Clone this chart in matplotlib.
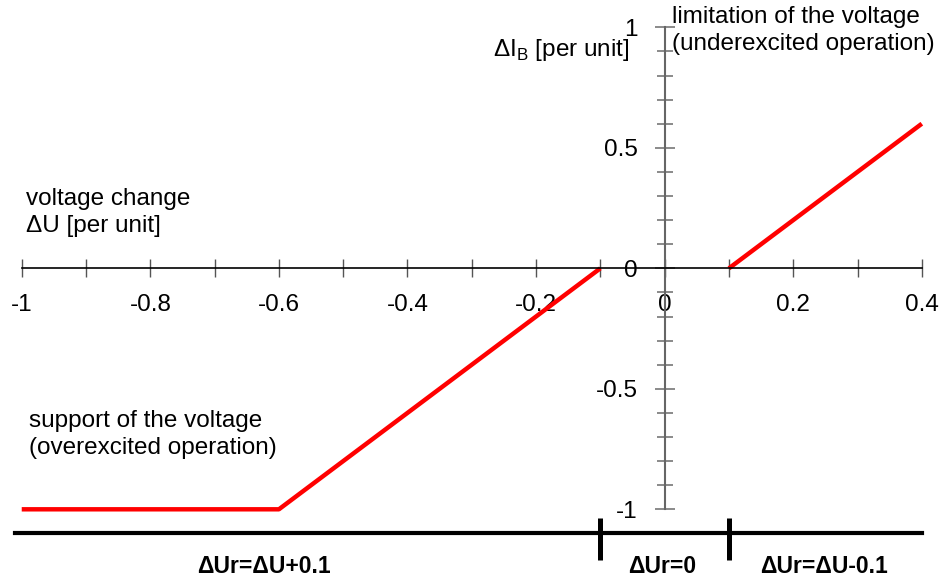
import matplotlib
matplotlib.use("Agg")
import matplotlib.pyplot as plt
from matplotlib.ticker import FixedLocator, FuncFormatter

plt.rcParams["font.family"] = ["Liberation Sans", "DejaVu Sans"]
plt.rcParams["axes.unicode_minus"] = False
plt.rcParams["mathtext.fontset"] = "custom"
plt.rcParams["mathtext.rm"] = "Liberation Sans"

# reactive current characteristic: dI_B over dU (per unit)
du_support = [-1.0, -0.6, -0.1]
di_support = [-1.0, -1.0, 0.0]
du_limit = [0.1, 0.4]
di_limit = [0.0, 0.6]

# ranges of the reference voltage along the bottom bar
bar_du = [-1.01, 0.4]
bar_level = -1.1
range_edges = [-0.1, 0.1]
range_labels = ["ΔUr=ΔU+0.1", "ΔUr=0", "ΔUr=ΔU-0.1"]

x_major = [-1.0, -0.8, -0.6, -0.4, -0.2, 0.0, 0.2, 0.4]
x_minor = [-0.9, -0.7, -0.5, -0.3, -0.1, 0.1, 0.3]
y_major = [-1.0, -0.5, 0.0, 0.5, 1.0]
y_minor = [i / 10 for i in range(-10, 11) if i % 5 != 0]


def fmt(v, pos):
    return f"{round(v, 1) + 0.0:g}"


fig = plt.figure(figsize=(9.44, 5.81), dpi=100)
ax = fig.add_axes([0, 0, 1, 1])
ax.set_xlim(-1.0338, 0.4345)
ax.set_ylim(-1.2975, 1.1133)
ax.patch.set_visible(False)

for s in ["top", "right"]:
    ax.spines[s].set_visible(False)
ax.spines["left"].set_position(("data", 0))
ax.spines["left"].set_bounds(-1, 1)
ax.spines["left"].set_color("#666666")
ax.spines["left"].set_linewidth(1.5)
ax.spines["bottom"].set_position(("data", 0))
ax.spines["bottom"].set_bounds(-1, 0.4)
ax.spines["bottom"].set_color("black")
ax.spines["bottom"].set_linewidth(1.2)

ax.xaxis.set_major_locator(FixedLocator(x_major))
ax.xaxis.set_minor_locator(FixedLocator(x_minor))
ax.yaxis.set_major_locator(FixedLocator(y_major))
ax.yaxis.set_minor_locator(FixedLocator(y_minor))
ax.xaxis.set_major_formatter(FuncFormatter(fmt))
ax.yaxis.set_major_formatter(FuncFormatter(fmt))

ax.tick_params(axis="x", which="both", direction="inout", length=13, width=1,
               color="#555555", labelsize=17.5, pad=12)
ax.tick_params(axis="y", which="major", direction="inout", length=15, width=1.2,
               color="#777777", labelsize=17.5, pad=12)
ax.tick_params(axis="y", which="minor", direction="inout", length=12, width=1.2,
               color="#777777")

# characteristic
ax.plot(du_support, di_support, color="#ff0000", lw=3.2, solid_capstyle="butt")
ax.plot(du_limit, di_limit, color="#ff0000", lw=3.2, solid_capstyle="butt")

# bottom bar with range separators
ax.plot(bar_du, [bar_level, bar_level], color="black", lw=3)
ax.vlines(range_edges, -1.21, -1.035, color="black", lw=3.6)
for x, lab in zip([-0.623, -0.004, 0.248], range_labels):
    ax.text(x, -1.237, lab, ha="center", va="center", fontsize=16.5,
            fontweight="bold")

ax.text(-0.054, 0.906, "ΔI$_\\mathrm{B}$ [per unit]", ha="right", va="center",
        fontsize=17.5)
ax.text(0.012, 0.985, "limitation of the voltage\n(underexcited operation)",
        ha="left", va="center", fontsize=17.5, linespacing=1.3)
ax.text(-0.993, 0.23, "voltage change\nΔU [per unit]",
        ha="left", va="center", fontsize=17.5, linespacing=1.3)
ax.text(-0.989, -0.689, "support of the voltage\n(overexcited operation)",
        ha="left", va="center", fontsize=17.5, linespacing=1.3)

fig.savefig("out.png", dpi=100)
